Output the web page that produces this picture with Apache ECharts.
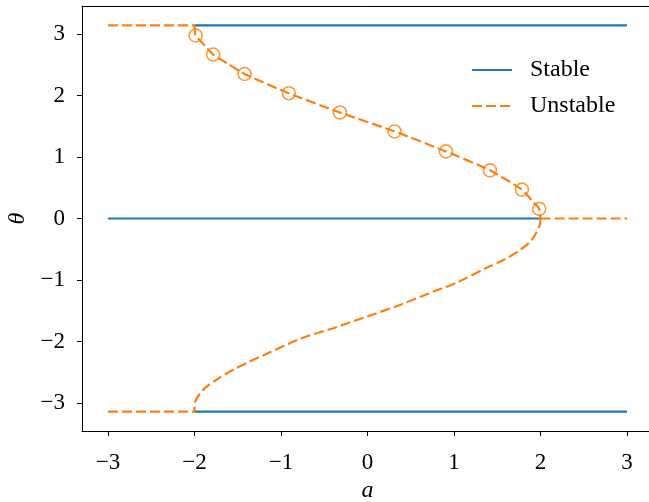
<!DOCTYPE html>
<html>
<head>
<meta charset="utf-8">
<script src="https://cdn.jsdelivr.net/npm/echarts@6/dist/echarts.min.js"></script>
<style>html,body{margin:0;padding:0;background:#fff;overflow:hidden}#c{width:649px;height:502px}</style>
</head>
<body>
<div id="c"></div>
<script>
// ---- data ----
const xTicks = [-3, -2, -1, 0, 1, 2, 3];
const yTicks = [-3, -2, -1, 0, 1, 2, 3];

// stable branches
const stableTopA = [-2, 3];       const stableTopT = [3.1416, 3.1416];
const stableMidA = [-3, 2];       const stableMidT = [0, 0];
const stableBotA = [-2, 3];       const stableBotT = [-3.1416, -3.1416];

// unstable flat branches
const unstTopA = [-3, -2];        const unstTopT = [3.1416, 3.1416];
const unstMidA = [2, 3];          const unstMidT = [0, 0];
const unstBotA = [-3, -2];        const unstBotT = [-3.1416, -3.1416];

// unstable upper curve
const upperA = [-2.0, -1.996, -1.987, -1.88, -1.784, -1.61, -1.421, -0.909, -0.319, 0.313, 0.906, 1.415, 1.785, 1.897, 1.985, 2.0];
const upperT = [3.1416, 3.06, 2.977, 2.811, 2.666, 2.513, 2.351, 2.037, 1.724, 1.416, 1.091, 0.783, 0.470, 0.297, 0.156, 0];

// markers on the upper curve
const markA = [-1.987, -1.784, -1.421, -0.909, -0.319, 0.313, 0.906, 1.415, 1.785, 1.985];
const markT = [2.977, 2.666, 2.351, 2.037, 1.724, 1.416, 1.091, 0.783, 0.470, 0.156];

// unstable lower curve
const lowerA = [2.0, 1.99, 1.897, 1.762, 1.569, 1.377, 1.03, 0.76, 0.375, -0.01, -0.397, -0.76, -1.19, -1.36, -1.553, -1.744, -1.899, -1.995, -2.0];
const lowerT = [0, -0.108, -0.352, -0.514, -0.676, -0.80, -1.044, -1.19, -1.406, -1.596, -1.784, -1.946, -2.217, -2.325, -2.46, -2.622, -2.784, -3.0, -3.1416];

// ---- chart ----
const BLUE = '#1f77b4', ORANGE = '#ff7f0e';
const FONT = '"Liberation Serif","DejaVu Serif",serif';
const zip = (a, b) => a.map((v, i) => [v, b[i]]);
const minus = v => String(v).replace('-', '\u2212');

function stable(a, t) {
  return { name: 'Stable', type: 'line', data: zip(a, t), symbol: 'none', z: 2,
    lineStyle: { color: BLUE, width: 2.2 }, itemStyle: { color: BLUE }, animation: false };
}
function unstable(a, t, smooth) {
  return { name: 'Unstable', type: 'line', data: zip(a, t), symbol: 'none', z: 3, smooth: smooth || false,
    lineStyle: { color: ORANGE, width: 2.2, type: [10, 4] }, itemStyle: { color: ORANGE }, animation: false };
}
const spine = { show: true, onZero: false, lineStyle: { color: '#000', width: 1 } };

const chart = echarts.init(document.getElementById('c'), null, { renderer: 'canvas' });
chart.setOption({
  animation: false,
  backgroundColor: '#fff',
  grid: { left: 82, top: 6, width: 571, height: 425, outerBoundsMode: 'none', containLabel: false },
  graphic: [{ type: 'rect', right: 0, top: 9, shape: { width: 3, height: 420 }, style: { fill: '#fff' }, z: 100, silent: true }],
  legend: {
    left: 471, top: 58, padding: 0, orient: 'vertical', itemWidth: 40, itemHeight: 14, itemGap: 12,
    data: ['Stable', 'Unstable'],
    itemStyle: { opacity: 0 },
    textStyle: { fontFamily: FONT, fontSize: 24, color: '#000', padding: [0, 0, 0, 13] }
  },
  xAxis: [{
    type: 'value', min: -3.3, max: 3.3,
    name: 'a', nameLocation: 'middle', nameGap: 43,
    nameTextStyle: { fontFamily: FONT, fontSize: 24, fontStyle: 'italic', color: '#000' },
    axisLine: spine,
    axisTick: { show: true, length: 5, customValues: xTicks, lineStyle: { color: '#000', width: 1 } },
    axisLabel: { customValues: xTicks, margin: 20, fontFamily: FONT, fontSize: 23, color: '#000', formatter: minus },
    splitLine: { show: false }
  }, {
    type: 'value', min: -3.3, max: 3.3, position: 'top',
    axisLine: spine, axisTick: { show: false }, axisLabel: { show: false }, splitLine: { show: false }
  }],
  yAxis: [{
    type: 'value', min: -3.456, max: 3.456,
    name: '\u03b8', nameLocation: 'middle', nameGap: 48, nameRotate: 90,
    nameTextStyle: { fontFamily: FONT, fontSize: 24, fontStyle: 'italic', color: '#000' },
    axisLine: spine,
    axisTick: { show: true, length: 5, customValues: yTicks, lineStyle: { color: '#000', width: 1 } },
    axisLabel: { customValues: yTicks, margin: 17, fontFamily: FONT, fontSize: 23, color: '#000', formatter: minus },
    splitLine: { show: false }
  }],
  series: [
    stable(stableTopA, stableTopT),
    stable(stableMidA, stableMidT),
    stable(stableBotA, stableBotT),
    unstable(unstTopA, unstTopT),
    unstable(unstMidA, unstMidT),
    unstable(unstBotA, unstBotT),
    unstable(upperA, upperT, 0.2),
    unstable(lowerA, lowerT, 0.3),
    { name: 'markers', type: 'scatter', data: zip(markA, markT), symbol: 'circle', symbolSize: 13, z: 4,
      itemStyle: { color: 'rgba(0,0,0,0)', borderColor: ORANGE, borderWidth: 1.6 }, animation: false }
  ]
});
</script>
</body>
</html>
